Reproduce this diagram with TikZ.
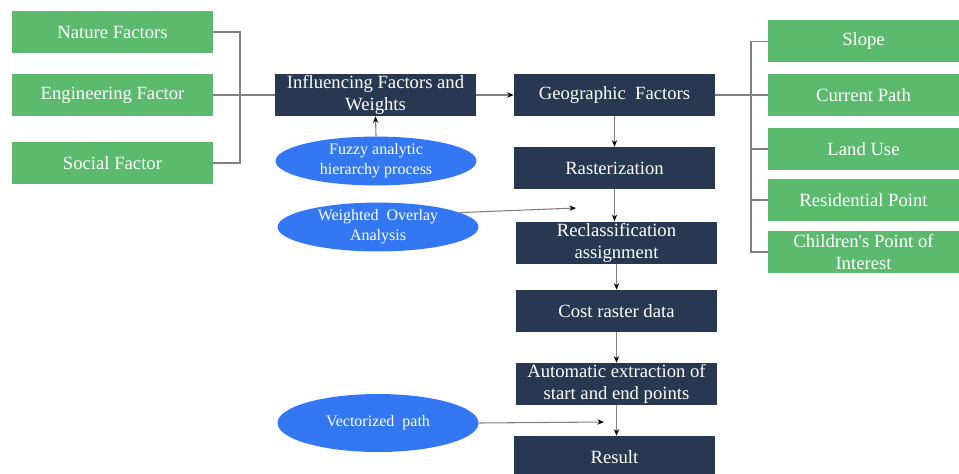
\documentclass[tikz,border=0pt]{standalone}
\usepackage{fontspec}
\setmainfont{Liberation Serif}
\usetikzlibrary{positioning,arrows.meta,shapes.geometric}
\definecolor{factgreen}{RGB}{92,186,111}
\definecolor{stepnavy}{RGB}{39,56,80}
\definecolor{methblue}{RGB}{51,120,242}
\definecolor{linegray}{RGB}{128,128,128}

\begin{document}
\begin{tikzpicture}[x=0.75pt,y=-0.75pt,>=Stealth,
  factor/.style={fill=factgreen, text=white, font=\fontsize{14}{17}\selectfont,
    minimum height=31.5pt, inner sep=1pt, align=center},
  stepbox/.style={fill=stepnavy, text=white, font=\fontsize{14}{16.5}\selectfont,
    minimum width=150.75pt, minimum height=31.5pt, inner sep=1pt, align=center},
  method/.style={ellipse, fill=methblue, text=white, font=\fontsize{12}{15}\selectfont,
    minimum width=150.75pt, inner sep=0pt, align=center},
  link/.style={draw=linegray, line width=0.8pt},
  arrow/.style={link, -{Stealth[length=5pt,width=4pt,black]}}]

\useasboundingbox (0,0) rectangle (959,474);

% left factors
\node[factor, minimum width=150.75pt] (nat) at (112.5,32) {Nature Factors};
\node[factor, minimum width=150.75pt] (eng) at (112.5,95) {Engineering Factor};
\node[factor, minimum width=150.75pt] (soc) at (112.5,163) {Social Factor};

% main chain
\node[stepbox] (inf) at (375.5,95) {Influencing Factors and\\Weights};
\node[stepbox] (geo) at (614.5,95) {Geographic\ \ Factors};
\node[stepbox] (ras) at (614.5,168) {Rasterization};
\node[stepbox] (rec) at (616.5,242.5) {Reclassification\\assignment};
\node[stepbox] (cst) at (616.5,311) {Cost raster data};
\node[stepbox] (aut) at (616.5,384) {Automatic extraction of\\start and end points};
\node[stepbox] (rsl) at (614.5,457) {Result};

% methods
\node[method, minimum height=33pt] (fah) at (376,161) {Fuzzy\ analytic\\hierarchy\ process};
\node[method, minimum height=35.25pt] (wol) at (378,227) {Weighted\ \ Overlay\\Analysis};
\node[method, minimum height=43.5pt] (vec) at (378,423) {Vectorized\ \ path};

% right factors
\node[factor, minimum width=143.25pt] (slo) at (863.5,41.5) {Slope};
\node[factor, minimum width=143.25pt] (cur) at (863.5,95) {Current Path};
\node[factor, minimum width=143.25pt] (lan) at (863.5,149) {Land Use};
\node[factor, minimum width=143.25pt] (rsd) at (863.5,200) {Residential Point};
\node[factor, minimum width=143.25pt] (chi) at (863.5,252) {Children\textquotesingle s Point of\\Interest};

% bus lines
\coordinate (lj) at (240,95);
\coordinate (rj) at (751,95);
\draw[link] (nat.east) -| (lj) |- (soc.east);
\draw[link] (eng.east) -- (inf.west);
\draw[link] (geo.east) -- (cur.west);
\draw[link] (slo.west) -| (rj) |- (chi.west);
\draw[link] (lan.west) -- (lan.west -| rj);
\draw[link] (rsd.west) -- (rsd.west -| rj);

% arrows
\draw[arrow] (fah.north) -- (inf.south);
\draw[arrow] (inf) -- (geo);
\foreach \a/\b in {geo/ras, ras/rec, rec/cst, cst/aut, aut/rsl}
  \draw[arrow] (\a.south) -- (\a.south |- \b.north);

\coordinate (wtip) at (576,208);
\coordinate (vtip) at (604,422);
\draw[arrow] (wol.10) -- (wtip);
\draw[arrow] (vec.east) -- (vtip);

\end{tikzpicture}
\end{document}
